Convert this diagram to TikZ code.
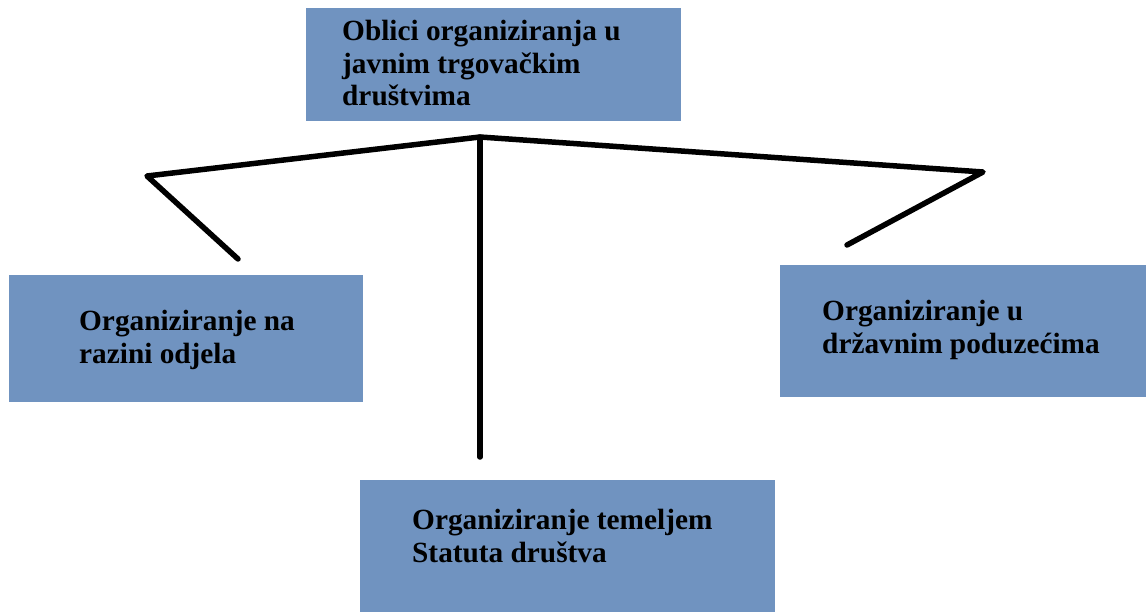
\documentclass[tikz,border=0pt]{standalone}
\usepackage{fontspec}
\setmainfont{Liberation Serif}
\definecolor{boxblue}{HTML}{7093C0}
\begin{document}
\begin{tikzpicture}[x=1pt,y=-1pt,
  box/.style={fill=boxblue, draw=none, anchor=north west, inner sep=0pt},
  txt/.style={anchor=base west, inner sep=0pt, align=left, font=\fontsize{29.3}{32.5}\selectfont\bfseries},
  conn/.style={line width=5.5pt, line cap=round, line join=round, black}]
\useasboundingbox (0,0) rectangle (1148,612);
% boxes
\node[box, minimum width=375pt, minimum height=113pt] (top) at (306,8) {};
\node[box, minimum width=354pt, minimum height=127pt] (left) at (9,275) {};
\node[box, minimum width=366pt, minimum height=132pt] (right) at (780,265) {};
\node[box, minimum width=415pt, minimum height=132pt] (bottom) at (360,480) {};
% texts (anchored at the baseline of the last line)
\node[txt] (ttop) at (342,106) {Oblici organiziranja u\\javnim trgovačkim\\društvima};
\node[txt] (tleft) at (79,363) {Organiziranje na\\razini odjela};
\node[txt] (tright) at (822,353) {Organiziranje u\\državnim poduzećima};
\node[txt] (tbottom) at (412,562) {Organiziranje temeljem\\Statuta društva};
% connector points
\coordinate (apex) at (480,137);
\coordinate (lk) at (147,176);
\coordinate (lend) at (238,259);
\coordinate (rk) at (983,172);
\coordinate (rend) at (847,245);
\coordinate (vend) at (480,457);
\draw[conn] (lend) -- (lk) -- (apex) -- (rk) -- (rend);
\draw[conn] (apex) -- (vend);
\end{tikzpicture}
\end{document}
